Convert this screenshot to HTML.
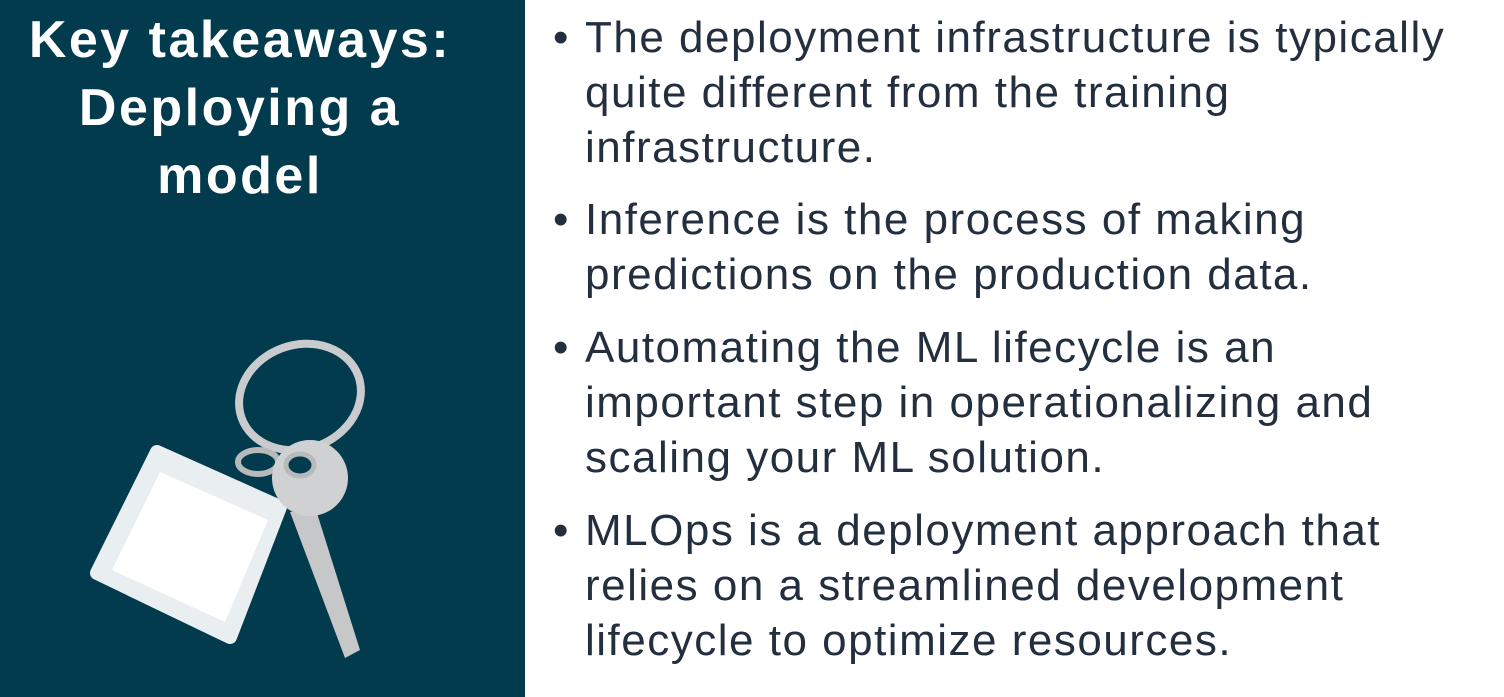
<!DOCTYPE html>
<html><head><meta charset="utf-8"><style>
html,body{margin:0;padding:0;width:1504px;height:697px;overflow:hidden;background:#fff;font-family:"Liberation Sans",sans-serif}
#left{position:absolute;left:0;top:0;width:525px;height:697px;background:#023a4e}
.t{position:absolute;left:0;width:480px;text-align:center;color:#fff;font-weight:bold;font-size:52px;line-height:52px;letter-spacing:2.5px}
.l{position:absolute;left:585px;font-size:44px;line-height:44px;color:#232f3e;white-space:nowrap;letter-spacing:1.5px}
.b{position:absolute;left:553px;font-size:44px;line-height:44px;color:#232f3e}
</style></head><body>
<div id="left">
<div class="t" style="top:14px">Key takeaways:</div>
<div class="t" style="top:82px">Deploying a</div>
<div class="t" style="top:150px">model</div>
<svg width="525" height="697" style="position:absolute;left:0;top:0">
<ellipse cx="300" cy="397" rx="62" ry="52" fill="none" stroke="#c9cbcc" stroke-width="8" transform="rotate(-20 300 397)"/>
<ellipse cx="258" cy="462" rx="20" ry="12" fill="none" stroke="#b7b9ba" stroke-width="6"/>
<polygon points="157,452 280,507 230,637 97,573" fill="#e9eef0" stroke="#e9eef0" stroke-width="14" stroke-linejoin="round"/>
<polygon points="160,472 268,520 225,622 112,570" fill="#ffffff"/>
<polygon points="290,512 316,510 360,650 345,658" fill="#c5c7c8"/>
<circle cx="310" cy="478" r="38" fill="#cfd1d2"/>
<ellipse cx="300" cy="465" rx="12" ry="9" fill="#023a4e"/>
<ellipse cx="300" cy="465" rx="14" ry="11" fill="none" stroke="#b7b9ba" stroke-width="5"/>
</svg>
</div>
<div class="b" style="top:16px">•</div>
<div class="l" style="top:16px">The deployment infrastructure is typically</div>
<div class="l" style="top:71px">quite different from the training</div>
<div class="l" style="top:126px">infrastructure.</div>
<div class="b" style="top:198px">•</div>
<div class="l" style="top:198px">Inference is the process of making</div>
<div class="l" style="top:253px">predictions on the production data.</div>
<div class="b" style="top:326px">•</div>
<div class="l" style="top:326px">Automating the ML lifecycle is an</div>
<div class="l" style="top:381px">important step in operationalizing and</div>
<div class="l" style="top:436px">scaling your ML solution.</div>
<div class="b" style="top:509px">•</div>
<div class="l" style="top:509px">MLOps is a deployment approach that</div>
<div class="l" style="top:564px">relies on a streamlined development</div>
<div class="l" style="top:619px">lifecycle to optimize resources.</div>
</body></html>
